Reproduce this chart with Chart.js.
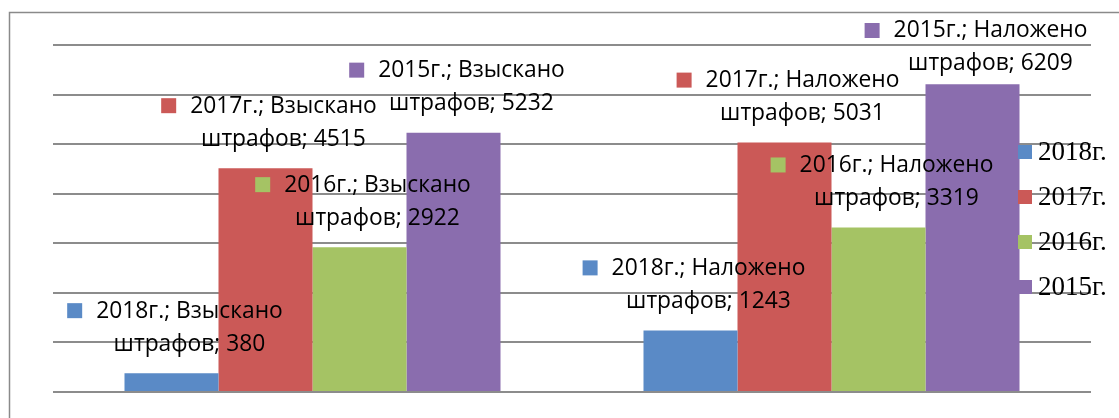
<!DOCTYPE html>
<html>
<head>
<meta charset="utf-8">
<script src="https://cdn.jsdelivr.net/npm/chart.js@4/dist/chart.umd.min.js"></script>
<style>
  html, body { margin: 0; padding: 0; background: #fff; }
  #wrap { width: 1119px; height: 418px; }
</style>
</head>
<body>
<div id="wrap"><canvas id="finesChart" width="1119" height="418"></canvas></div>
<script>
// data
const categories = ['Взыскано штрафов', 'Наложено штрафов'];
const years = ['2018г.', '2017г.', '2016г.', '2015г.'];
const values2018 = [380, 1243];
const values2017 = [4515, 5031];
const values2016 = [2922, 3319];
const values2015 = [5232, 6209];
const yTicks = [0, 1000, 2000, 3000, 4000, 5000, 6000, 7000];

const colors = ['#5A8AC6', '#CB5957', '#A5C364', '#8A6DAE'];
const seriesValues = [values2018, values2017, values2016, values2015];

const labelFont = '22.8px "Open Sans", "Liberation Sans", sans-serif';

// frame around the chart
const framePlugin = {
    id: 'frame',
    beforeDraw(chart) {
        const c = chart.ctx;
        c.save();
        c.strokeStyle = '#8a8a8a';
        c.lineWidth = 1.5;
        c.strokeRect(9.5, 12.5, 1200, 500);
        c.restore();
    }
};

// Excel-like data labels: "2018г.; Взыскано" / "штрафов; 380" with a colour key
const labelPlugin = {
    id: 'barLabels',
    afterDatasetsDraw(chart) {
        const c = chart.ctx;
        c.save();
        c.font = labelFont;
        c.textBaseline = 'middle';
        chart.data.datasets.forEach((ds, i) => {
            const meta = chart.getDatasetMeta(i);
            meta.data.forEach((bar, j) => {
                const parts = categories[j].split(' ');
                const line1 = ds.label + '; ' + parts[0];
                const line2 = parts[1] + '; ' + ds.data[j];
                let y1 = bar.y - 29 - 33;
                if (y1 < 31) y1 = 31;
                const y2 = y1 + 33;
                const cx = bar.x + 18;
                c.textAlign = 'center';
                c.fillStyle = '#000';
                c.fillText(line1, cx, y1);
                c.fillText(line2, cx, y2);
                const w1 = c.measureText(line1).width;
                c.fillStyle = ds.backgroundColor;
                c.fillRect(cx - w1 / 2 - 14 - 15, y1 - 8, 15, 15);
            });
        });
        c.restore();
    }
};

// legend overlaying the right side of the plot, as in the original
const legendPlugin = {
    id: 'sideLegend',
    afterDraw(chart) {
        const c = chart.ctx;
        c.save();
        c.font = '27px "Liberation Serif", "Times New Roman", serif';
        c.textBaseline = 'middle';
        c.textAlign = 'left';
        chart.data.datasets.forEach((ds, i) => {
            const y = 152 + i * 45;
            c.fillStyle = ds.backgroundColor;
            c.fillRect(1018, y - 7, 14, 14);
            c.fillStyle = '#000';
            c.fillText(ds.label, 1038, y + 1);
        });
        c.restore();
    }
};

const ctx = document.getElementById('finesChart').getContext('2d');

new Chart(ctx, {
    type: 'bar',
    data: {
        labels: categories,
        datasets: years.map((y, i) => ({
            label: y,
            data: seriesValues[i],
            backgroundColor: colors[i],
            borderWidth: 0,
            categoryPercentage: 0.7245,
            barPercentage: 1
        }))
    },
    options: {
        responsive: false,
        animation: false,
        layout: { padding: { left: 53, right: 28, top: 45, bottom: 26 } },
        plugins: {
            legend: { display: false },
            tooltip: { enabled: false }
        },
        scales: {
            x: { display: false },
            y: {
                min: 0,
                max: 7000,
                afterBuildTicks(axis) { axis.ticks = yTicks.map(v => ({ value: v })); },
                ticks: { display: false },
                border: { display: false },
                grid: { color: '#8c8c8c', lineWidth: 2, drawTicks: false }
            }
        }
    },
    plugins: [framePlugin, labelPlugin, legendPlugin]
});
</script>
</body>
</html>
